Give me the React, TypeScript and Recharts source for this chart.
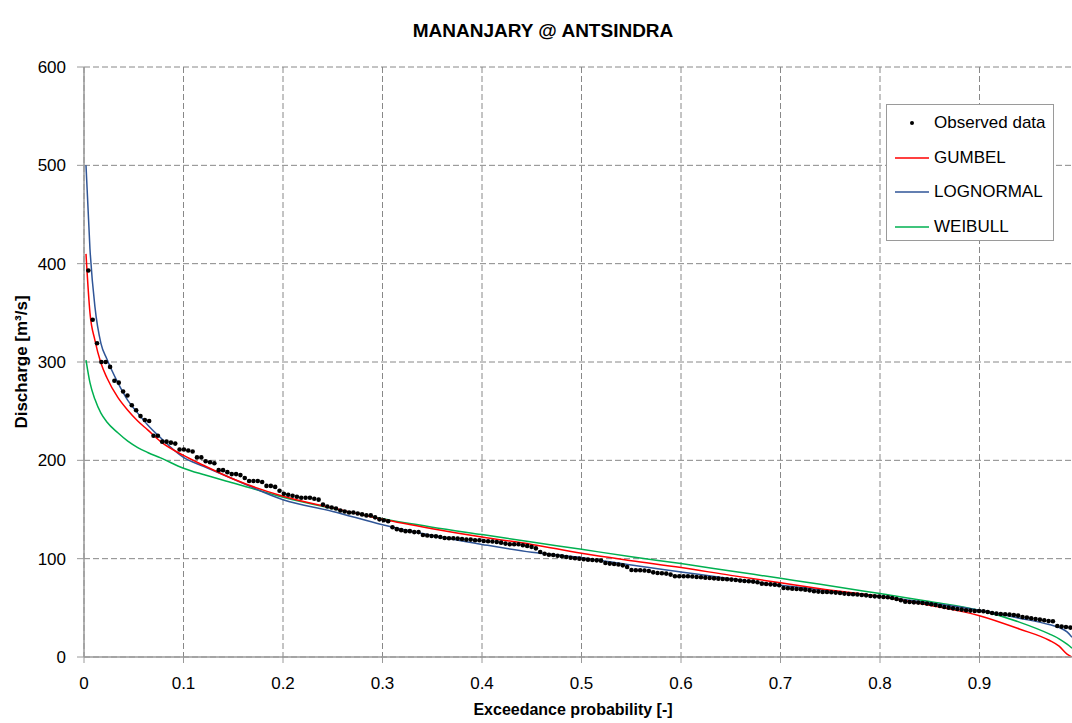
import { CartesianGrid, ComposedChart, Line, Scatter, XAxis, YAxis } from "recharts";

// observed discharge, sorted, plotted at Weibull positions i/(n+1)
const observedQ = [
  393, 343, 319, 300, 300, 295, 281, 279, 270, 266,
  256, 251, 245, 241, 240, 225, 225, 219, 219, 218,
  217, 211, 211, 210, 209, 203, 203, 199, 198, 197,
  190, 190, 188, 186, 186, 185, 182, 179, 179, 179,
  178, 174, 174, 173, 169,
  166, 165, 164, 163, 162, 162, 162, 161, 160,
  155, 153, 152, 151, 149, 148, 147, 147, 146, 145, 144, 144,
  142, 140, 139, 138,
  132, 130, 129, 128, 128, 127, 127,
  124, 123.5, 123, 122.7, 122, 121, 120.7, 120.7, 120.4, 120, 119.4, 119.4, 118.7, 118.7,
  118, 117.7, 117.4, 117, 116.3, 115.3, 114.6, 114.6, 114.6, 113.6, 113, 112, 110.5,
  106.8, 105, 104, 103.7, 103, 102.4, 101.7, 101, 100.4, 100, 99.4, 99, 98.7, 98.3, 98,
  95.6, 95, 94.6, 94, 93.2, 91.5, 88.5, 88.2, 88.2, 87.9, 87.5,
  86.1, 85.4, 85.1, 84.8, 83.8, 82.1, 82.1, 82.1, 82.1, 81.8, 81.4, 81.1, 80.7, 80.4, 80,
  79.7, 79.3, 79, 78.7, 78.3, 77.7, 77.3, 77, 76.7, 76, 74.6, 74.3, 73.9, 73.6, 72.9,
  70.2, 69.9, 69.5, 69.2, 68.9, 68.5, 67.8, 66.8, 66.5, 66.1, 66.1, 65.8, 65.5, 65.1,
  64.5, 64.1, 63.8, 63.5, 63.1, 62.7, 62, 61.7, 61.4, 61, 60.7, 60, 59, 57.7, 56.3,
  55.9, 55.6, 55.3, 54.9, 54.3, 53.6, 52.9, 51.9, 50.8, 50.2, 49.5, 48.8, 48.2, 47.5, 47.2,
  46.8, 46.8, 46.5, 45.8, 44.7, 44.1, 43.7, 43.4, 43.1, 42.7, 42.1, 40.7, 40.1, 39.4, 38.6,
  38, 37.3, 36.6, 36.3, 31.5, 30.9, 30.5, 29.9, 28.9,
];

const curveP = [
  0.002, 0.006, 0.011, 0.017, 0.023, 0.034, 0.044, 0.054, 0.064, 0.077, 0.1, 0.12, 0.15,
  0.2, 0.25, 0.3, 0.35, 0.4, 0.45, 0.5, 0.55, 0.6, 0.65, 0.7, 0.74, 0.8, 0.85, 0.9, 0.94,
  0.97, 0.98, 0.988, 0.993,
];
const gumbel = [
  410, 350, 322, 299, 284, 264, 251, 240, 231, 219, 205, 195, 181,
  163.5, 151.5, 140, 130.5, 122, 114.5, 105.5, 98, 91, 83, 75.5, 69.5, 61.5, 52.5, 42, 28.5,
  17, 11, 3, 0,
];
const lognormal = [
  500, 415, 356, 319, 303, 279, 261, 248, 236, 223, 203, 194, 181,
  160, 148, 134.5, 123.5, 114.5, 106.5, 101, 93.5, 86.5, 79.5, 73, 68.5, 61.7, 55, 47.5, 39.5,
  33, 30, 25.5, 20,
];
const weibull = [
  302, 279, 262, 248, 239, 228, 219.5, 213, 208, 202.5, 192, 185.5, 177,
  162.5, 151, 140.5, 132, 124.5, 117, 109.5, 102, 95, 87.5, 80, 74, 64.5, 56.5, 47.5, 35.5,
  23.5, 18.5, 13, 9,
];

const xTicks = [0, 0.1, 0.2, 0.3, 0.4, 0.5, 0.6, 0.7, 0.8, 0.9];
const yTicks = [0, 100, 200, 300, 400, 500, 600];

const seriesNames = ["Observed data", "GUMBEL", "LOGNORMAL", "WEIBULL"];
const seriesColors = ["#000000", "#ff0000", "#2f5597", "#00b050"];

const observed = observedQ.map((q, i) => ({ p: (i + 1) / (observedQ.length + 1), q }));
const curves = curveP.map((p, i) => ({ p, gumbel: gumbel[i], lognormal: lognormal[i], weibull: weibull[i] }));

const font = '"Liberation Sans", Arial, sans-serif';
const axisColor = "#9a9a9a";

const Dot = (props: any) => <circle cx={props.cx} cy={props.cy} r={2.3} fill="#000" />;

function LegendBox() {
  return (
    <div
      style={{
        position: "absolute",
        left: 886,
        top: 104,
        width: 166,
        height: 135,
        border: "1px solid #9a9a9a",
        background: "#fff",
        fontFamily: font,
        fontSize: 17,
      }}
    >
      {seriesNames.map((name, i) => (
        <div key={name} style={{ position: "absolute", left: 8, top: 8 + i * 34.5, height: 20, display: "flex", alignItems: "center" }}>
          <svg width={34} height={20}>
            {i === 0 ? (
              <circle cx={17} cy={10} r={2} fill="#000" />
            ) : (
              <line x1={0} x2={34} y1={10} y2={10} stroke={seriesColors[i]} strokeWidth={1.5} />
            )}
          </svg>
          <span style={{ marginLeft: 5 }}>{name}</span>
        </div>
      ))}
    </div>
  );
}

export default function App() {
  return (
    <div style={{ position: "fixed", left: 0, top: 0, width: 1072, height: 723, overflow: "hidden", background: "#fff" }}>
      <ComposedChart width={1090} height={723} margin={{ top: 67, right: 11, bottom: 36, left: 0 }}>
        <CartesianGrid stroke="#888" strokeDasharray="6 3" />
        <XAxis
          type="number"
          dataKey="p"
          domain={[0, 1]}
          ticks={xTicks}
          tickFormatter={(v: number) => (v === 0 ? "0" : v.toFixed(1))}
          axisLine={{ stroke: axisColor, strokeWidth: 1.5 }}
          tickLine={{ stroke: axisColor }}
          tick={{ fill: "#000", fontSize: 17, fontFamily: font }}
          tickSize={6}
          tickMargin={14}
          height={30}
          allowDataOverflow
        />
        <YAxis
          type="number"
          domain={[0, 600]}
          ticks={yTicks}
          axisLine={{ stroke: axisColor, strokeWidth: 1.5 }}
          tickLine={{ stroke: axisColor }}
          tick={{ fill: "#000", fontSize: 17, fontFamily: font }}
          tickSize={7}
          tickMargin={11}
          width={84}
          allowDataOverflow
        />
        <Line data={curves} dataKey="weibull" type="monotone" stroke={seriesColors[3]} strokeWidth={1.5} dot={false} isAnimationActive={false} />
        <Line data={curves} dataKey="lognormal" type="monotone" stroke={seriesColors[2]} strokeWidth={1.5} dot={false} isAnimationActive={false} />
        <Line data={curves} dataKey="gumbel" type="monotone" stroke={seriesColors[1]} strokeWidth={1.5} dot={false} isAnimationActive={false} />
        <Scatter data={observed} dataKey="q" shape={Dot} isAnimationActive={false} />
      </ComposedChart>

      <div style={{ position: "absolute", left: 0, width: 1086, top: 20, textAlign: "center", fontFamily: font, fontWeight: "bold", fontSize: 19 }}>
        MANANJARY @ ANTSINDRA
      </div>
      <div style={{ position: "absolute", left: 84, width: 978, top: 701, textAlign: "center", fontFamily: font, fontWeight: "bold", fontSize: 16 }}>
        Exceedance probability [-]
      </div>
      <div
        style={{
          position: "absolute",
          left: 22,
          top: 362,
          transform: "translate(-50%, -50%) rotate(-90deg)",
          whiteSpace: "nowrap",
          fontFamily: font,
          fontWeight: "bold",
          fontSize: 17,
        }}
      >
        Discharge [m³/s]
      </div>
      <LegendBox />
    </div>
  );
}
